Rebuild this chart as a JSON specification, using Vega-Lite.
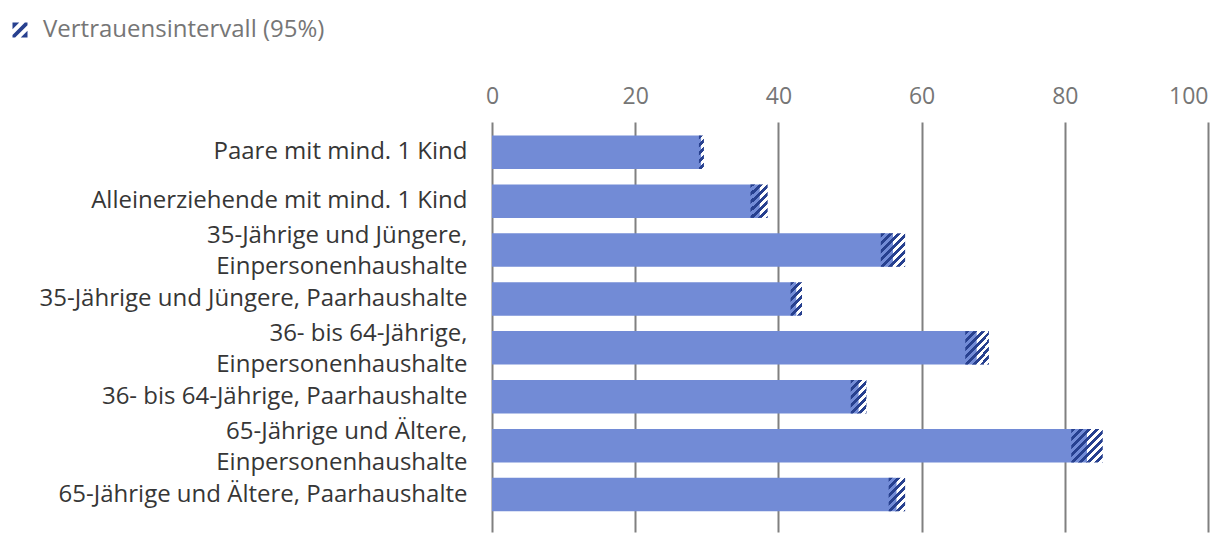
{
  "$schema": "https://vega.github.io/schema/vega-lite/v6.json",
  "width": 716,
  "height": 410,
  "autosize": {"type": "none"},
  "padding": {"left": 492, "top": 122, "right": 12, "bottom": 12},
  "config": {"view": {"stroke": null}, "font": "Open Sans"},
  "data": {
    "values": [
      {"cat": "Paare mit mind. 1 Kind", "lo": 28.9, "est": 29.2, "hi": 29.6},
      {"cat": "Alleinerziehende mit mind. 1 Kind", "lo": 36.1, "est": 37.4, "hi": 38.5},
      {"cat": "35-Jährige und Jüngere, Einpersonenhaushalte", "lo": 54.3, "est": 56.0, "hi": 57.7},
      {"cat": "35-Jährige und Jüngere, Paarhaushalte", "lo": 41.7, "est": 42.5, "hi": 43.3},
      {"cat": "36- bis 64-Jährige, Einpersonenhaushalte", "lo": 66.1, "est": 67.7, "hi": 69.4},
      {"cat": "36- bis 64-Jährige, Paarhaushalte", "lo": 50.1, "est": 51.2, "hi": 52.3},
      {"cat": "65-Jährige und Ältere, Einpersonenhaushalte", "lo": 80.9, "est": 83.1, "hi": 85.3},
      {"cat": "65-Jährige und Ältere, Paarhaushalte", "lo": 55.4, "est": 56.5, "hi": 57.7}
    ]
  },
  "encoding": {
    "y": {
      "field": "cat",
      "type": "nominal",
      "sort": null,
      "title": null,
      "scale": {"paddingInner": 0.315, "paddingOuter": 0.35, "align": 0.395},
      "axis": {
        "domain": false,
        "ticks": false,
        "labelFontSize": 24,
        "labelColor": "#363636",
        "labelPadding": 25,
        "labelLimit": 600,
        "labelLineHeight": 31,
        "labelOffset": {"condition": {"test": "indexof(datum.value, ', Einpersonen') >= 0", "value": -14}, "value": 0},
        "labelExpr": "indexof(datum.label, ', Einpersonen') >= 0 ? split(replace(datum.label, ', ', ',|'), '|') : datum.label"
      }
    }
  },
  "layer": [
    {
      "mark": {"type": "bar", "color": "#728bd6"},
      "encoding": {
        "x": {
          "field": "est",
          "type": "quantitative",
          "title": null,
          "scale": {"domain": [0, 100], "nice": false},
          "axis": {
            "orient": "top",
            "values": [0, 20, 40, 60, 80, 100],
            "domain": false,
            "ticks": false,
            "grid": true,
            "gridColor": "#808080",
            "gridWidth": 2,
            "labelFontSize": 23,
            "labelColor": "#767676",
            "labelPadding": 14,
            "labelAlign": {"condition": {"test": "datum.value == 100", "value": "right"}, "value": "center"}
          }
        }
      }
    },
    {
      "mark": {"type": "bar"},
      "encoding": {
        "x": {"field": "lo", "type": "quantitative", "title": null},
        "x2": {"field": "hi"},
        "fill": {
          "condition": [
            {"test": "datum.hi - datum.lo < 1.2", "value": {"gradient": "linear", "x1": 0, "y1": 0, "x2": 0.168, "y2": 1.124, "stops": [
              {"offset": 0, "color": "#27408f"}, {"offset": 0.104, "color": "#27408f"}, {"offset": 0.104, "color": "rgba(255,255,255,0)"}, {"offset": 0.208, "color": "rgba(255,255,255,0)"},
              {"offset": 0.208, "color": "#27408f"}, {"offset": 0.313, "color": "#27408f"}, {"offset": 0.313, "color": "rgba(255,255,255,0)"}, {"offset": 0.417, "color": "rgba(255,255,255,0)"},
              {"offset": 0.417, "color": "#27408f"}, {"offset": 0.521, "color": "#27408f"}, {"offset": 0.521, "color": "rgba(255,255,255,0)"}, {"offset": 0.625, "color": "rgba(255,255,255,0)"},
              {"offset": 0.625, "color": "#27408f"}, {"offset": 0.729, "color": "#27408f"}, {"offset": 0.729, "color": "rgba(255,255,255,0)"}, {"offset": 0.833, "color": "rgba(255,255,255,0)"},
              {"offset": 0.833, "color": "#27408f"}, {"offset": 0.938, "color": "#27408f"}, {"offset": 0.938, "color": "rgba(255,255,255,0)"}, {"offset": 1, "color": "rgba(255,255,255,0)"}
            ]}},
            {"test": "datum.hi - datum.lo < 2", "value": {"gradient": "linear", "x1": 0, "y1": 0, "x2": 0.413, "y2": 1.202, "stops": [
              {"offset": 0, "color": "#27408f"}, {"offset": 0.089, "color": "#27408f"}, {"offset": 0.089, "color": "rgba(255,255,255,0)"}, {"offset": 0.179, "color": "rgba(255,255,255,0)"},
              {"offset": 0.179, "color": "#27408f"}, {"offset": 0.268, "color": "#27408f"}, {"offset": 0.268, "color": "rgba(255,255,255,0)"}, {"offset": 0.357, "color": "rgba(255,255,255,0)"},
              {"offset": 0.357, "color": "#27408f"}, {"offset": 0.446, "color": "#27408f"}, {"offset": 0.446, "color": "rgba(255,255,255,0)"}, {"offset": 0.536, "color": "rgba(255,255,255,0)"},
              {"offset": 0.536, "color": "#27408f"}, {"offset": 0.625, "color": "#27408f"}, {"offset": 0.625, "color": "rgba(255,255,255,0)"}, {"offset": 0.714, "color": "rgba(255,255,255,0)"},
              {"offset": 0.714, "color": "#27408f"}, {"offset": 0.804, "color": "#27408f"}, {"offset": 0.804, "color": "rgba(255,255,255,0)"}, {"offset": 0.893, "color": "rgba(255,255,255,0)"},
              {"offset": 0.893, "color": "#27408f"}, {"offset": 0.982, "color": "#27408f"}, {"offset": 0.982, "color": "rgba(255,255,255,0)"}, {"offset": 1, "color": "rgba(255,255,255,0)"}
            ]}},
            {"test": "datum.hi - datum.lo < 2.8", "value": {"gradient": "linear", "x1": 0, "y1": 0, "x2": 0.592, "y2": 1.201, "stops": [
              {"offset": 0, "color": "#27408f"}, {"offset": 0.08, "color": "#27408f"}, {"offset": 0.08, "color": "rgba(255,255,255,0)"}, {"offset": 0.16, "color": "rgba(255,255,255,0)"},
              {"offset": 0.16, "color": "#27408f"}, {"offset": 0.24, "color": "#27408f"}, {"offset": 0.24, "color": "rgba(255,255,255,0)"}, {"offset": 0.32, "color": "rgba(255,255,255,0)"},
              {"offset": 0.32, "color": "#27408f"}, {"offset": 0.4, "color": "#27408f"}, {"offset": 0.4, "color": "rgba(255,255,255,0)"}, {"offset": 0.48, "color": "rgba(255,255,255,0)"},
              {"offset": 0.48, "color": "#27408f"}, {"offset": 0.56, "color": "#27408f"}, {"offset": 0.56, "color": "rgba(255,255,255,0)"}, {"offset": 0.64, "color": "rgba(255,255,255,0)"},
              {"offset": 0.64, "color": "#27408f"}, {"offset": 0.72, "color": "#27408f"}, {"offset": 0.72, "color": "rgba(255,255,255,0)"}, {"offset": 0.8, "color": "rgba(255,255,255,0)"},
              {"offset": 0.8, "color": "#27408f"}, {"offset": 0.88, "color": "#27408f"}, {"offset": 0.88, "color": "rgba(255,255,255,0)"}, {"offset": 0.96, "color": "rgba(255,255,255,0)"},
              {"offset": 0.96, "color": "#27408f"}, {"offset": 1, "color": "#27408f"}
            ]}},
            {"test": "datum.hi - datum.lo < 4", "value": {"gradient": "linear", "x1": 0, "y1": 0, "x2": 0.813, "y2": 1.134, "stops": [
              {"offset": 0, "color": "#27408f"}, {"offset": 0.069, "color": "#27408f"}, {"offset": 0.069, "color": "rgba(255,255,255,0)"}, {"offset": 0.139, "color": "rgba(255,255,255,0)"},
              {"offset": 0.139, "color": "#27408f"}, {"offset": 0.208, "color": "#27408f"}, {"offset": 0.208, "color": "rgba(255,255,255,0)"}, {"offset": 0.278, "color": "rgba(255,255,255,0)"},
              {"offset": 0.278, "color": "#27408f"}, {"offset": 0.347, "color": "#27408f"}, {"offset": 0.347, "color": "rgba(255,255,255,0)"}, {"offset": 0.417, "color": "rgba(255,255,255,0)"},
              {"offset": 0.417, "color": "#27408f"}, {"offset": 0.486, "color": "#27408f"}, {"offset": 0.486, "color": "rgba(255,255,255,0)"}, {"offset": 0.556, "color": "rgba(255,255,255,0)"},
              {"offset": 0.556, "color": "#27408f"}, {"offset": 0.625, "color": "#27408f"}, {"offset": 0.625, "color": "rgba(255,255,255,0)"}, {"offset": 0.694, "color": "rgba(255,255,255,0)"},
              {"offset": 0.694, "color": "#27408f"}, {"offset": 0.764, "color": "#27408f"}, {"offset": 0.764, "color": "rgba(255,255,255,0)"}, {"offset": 0.833, "color": "rgba(255,255,255,0)"},
              {"offset": 0.833, "color": "#27408f"}, {"offset": 0.903, "color": "#27408f"}, {"offset": 0.903, "color": "rgba(255,255,255,0)"}, {"offset": 0.972, "color": "rgba(255,255,255,0)"},
              {"offset": 0.972, "color": "#27408f"}, {"offset": 1, "color": "#27408f"}
            ]}}
          ],
          "value": {"gradient": "linear", "x1": 0, "y1": 0, "x2": 0.968, "y2": 1.03, "stops": [
            {"offset": 0, "color": "#27408f"}, {"offset": 0.062, "color": "#27408f"}, {"offset": 0.062, "color": "rgba(255,255,255,0)"}, {"offset": 0.123, "color": "rgba(255,255,255,0)"},
            {"offset": 0.123, "color": "#27408f"}, {"offset": 0.185, "color": "#27408f"}, {"offset": 0.185, "color": "rgba(255,255,255,0)"}, {"offset": 0.247, "color": "rgba(255,255,255,0)"},
            {"offset": 0.247, "color": "#27408f"}, {"offset": 0.309, "color": "#27408f"}, {"offset": 0.309, "color": "rgba(255,255,255,0)"}, {"offset": 0.37, "color": "rgba(255,255,255,0)"},
            {"offset": 0.37, "color": "#27408f"}, {"offset": 0.432, "color": "#27408f"}, {"offset": 0.432, "color": "rgba(255,255,255,0)"}, {"offset": 0.494, "color": "rgba(255,255,255,0)"},
            {"offset": 0.494, "color": "#27408f"}, {"offset": 0.556, "color": "#27408f"}, {"offset": 0.556, "color": "rgba(255,255,255,0)"}, {"offset": 0.617, "color": "rgba(255,255,255,0)"},
            {"offset": 0.617, "color": "#27408f"}, {"offset": 0.679, "color": "#27408f"}, {"offset": 0.679, "color": "rgba(255,255,255,0)"}, {"offset": 0.741, "color": "rgba(255,255,255,0)"},
            {"offset": 0.741, "color": "#27408f"}, {"offset": 0.802, "color": "#27408f"}, {"offset": 0.802, "color": "rgba(255,255,255,0)"}, {"offset": 0.864, "color": "rgba(255,255,255,0)"},
            {"offset": 0.864, "color": "#27408f"}, {"offset": 0.926, "color": "#27408f"}, {"offset": 0.926, "color": "rgba(255,255,255,0)"}, {"offset": 0.988, "color": "rgba(255,255,255,0)"},
            {"offset": 0.988, "color": "#27408f"}, {"offset": 1, "color": "#27408f"}
          ]}
        }
      }
    },
    {
      "mark": {"type": "point", "filled": true, "opacity": 0},
      "encoding": {
        "x": {"field": "est", "type": "quantitative", "title": null},
        "fill": {
          "datum": "Vertrauensintervall (95%)",
          "scale": {"range": ["#27408f"]},
          "legend": {
            "title": null,
            "orient": "none",
            "legendX": -484,
            "legendY": -104,
            "padding": 0,
            "symbolType": "M-1,-1L-0.1,-1L-1,-0.1ZM0.65,-1L1,-1L1,-0.65L-0.65,1L-1,1L-1,0.65ZM1,1L0.1,1L1,0.1Z",
            "symbolSize": 225,
            "symbolOpacity": 1,
            "symbolStrokeWidth": 0,
            "labelFontSize": 24,
            "labelColor": "#767676",
            "labelOffset": 11,
            "labelLimit": 500
          }
        }
      }
    }
  ]
}
